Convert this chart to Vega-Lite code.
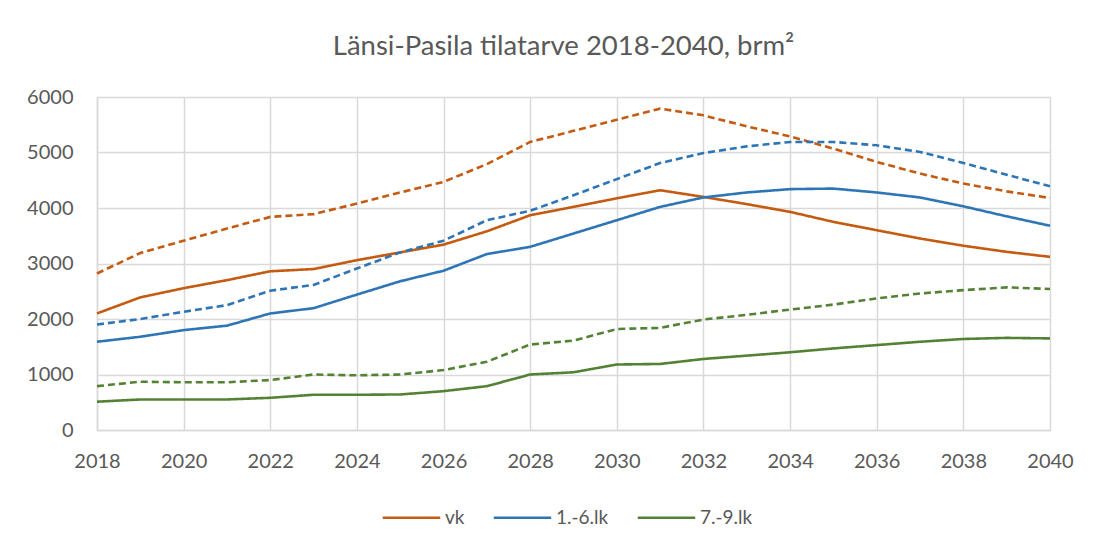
{
  "$schema": "https://vega.github.io/schema/vega-lite/v6.json",
  "width": 953,
  "height": 333,
  "autosize": {"type": "none"},
  "padding": {"left": 97, "top": 97, "right": 44, "bottom": 117},
  "background": "white",
  "title": {
    "text": "Länsi-Pasila tilatarve 2018-2040, brm²",
    "font": "Lato",
    "fontSize": 27.5,
    "fontWeight": "normal",
    "color": "#595959",
    "anchor": "middle",
    "dx": -10,
    "offset": 27
  },
  "config": {
    "view": {"stroke": null},
    "font": "Lato"
  },
  "data": {
    "values": [
      {"year": 2018, "series": "vk", "scenario": "solid", "value": 2100},
      {"year": 2019, "series": "vk", "scenario": "solid", "value": 2390},
      {"year": 2020, "series": "vk", "scenario": "solid", "value": 2555},
      {"year": 2021, "series": "vk", "scenario": "solid", "value": 2700},
      {"year": 2022, "series": "vk", "scenario": "solid", "value": 2860},
      {"year": 2023, "series": "vk", "scenario": "solid", "value": 2900},
      {"year": 2024, "series": "vk", "scenario": "solid", "value": 3060},
      {"year": 2025, "series": "vk", "scenario": "solid", "value": 3200},
      {"year": 2026, "series": "vk", "scenario": "solid", "value": 3340},
      {"year": 2027, "series": "vk", "scenario": "solid", "value": 3580},
      {"year": 2028, "series": "vk", "scenario": "solid", "value": 3870},
      {"year": 2029, "series": "vk", "scenario": "solid", "value": 4020},
      {"year": 2030, "series": "vk", "scenario": "solid", "value": 4175},
      {"year": 2031, "series": "vk", "scenario": "solid", "value": 4320},
      {"year": 2032, "series": "vk", "scenario": "solid", "value": 4200},
      {"year": 2033, "series": "vk", "scenario": "solid", "value": 4070},
      {"year": 2034, "series": "vk", "scenario": "solid", "value": 3930},
      {"year": 2035, "series": "vk", "scenario": "solid", "value": 3750},
      {"year": 2036, "series": "vk", "scenario": "solid", "value": 3600},
      {"year": 2037, "series": "vk", "scenario": "solid", "value": 3450},
      {"year": 2038, "series": "vk", "scenario": "solid", "value": 3320},
      {"year": 2039, "series": "vk", "scenario": "solid", "value": 3210},
      {"year": 2040, "series": "vk", "scenario": "solid", "value": 3120},
      {"year": 2018, "series": "vk", "scenario": "dashed", "value": 2820},
      {"year": 2019, "series": "vk", "scenario": "dashed", "value": 3190},
      {"year": 2020, "series": "vk", "scenario": "dashed", "value": 3410},
      {"year": 2021, "series": "vk", "scenario": "dashed", "value": 3630},
      {"year": 2022, "series": "vk", "scenario": "dashed", "value": 3840},
      {"year": 2023, "series": "vk", "scenario": "dashed", "value": 3890},
      {"year": 2024, "series": "vk", "scenario": "dashed", "value": 4080},
      {"year": 2025, "series": "vk", "scenario": "dashed", "value": 4280},
      {"year": 2026, "series": "vk", "scenario": "dashed", "value": 4470},
      {"year": 2027, "series": "vk", "scenario": "dashed", "value": 4790},
      {"year": 2028, "series": "vk", "scenario": "dashed", "value": 5190},
      {"year": 2029, "series": "vk", "scenario": "dashed", "value": 5390},
      {"year": 2030, "series": "vk", "scenario": "dashed", "value": 5590},
      {"year": 2031, "series": "vk", "scenario": "dashed", "value": 5790},
      {"year": 2032, "series": "vk", "scenario": "dashed", "value": 5670},
      {"year": 2033, "series": "vk", "scenario": "dashed", "value": 5470},
      {"year": 2034, "series": "vk", "scenario": "dashed", "value": 5290},
      {"year": 2035, "series": "vk", "scenario": "dashed", "value": 5070},
      {"year": 2036, "series": "vk", "scenario": "dashed", "value": 4830},
      {"year": 2037, "series": "vk", "scenario": "dashed", "value": 4620},
      {"year": 2038, "series": "vk", "scenario": "dashed", "value": 4440},
      {"year": 2039, "series": "vk", "scenario": "dashed", "value": 4300},
      {"year": 2040, "series": "vk", "scenario": "dashed", "value": 4180},
      {"year": 2018, "series": "1.-6.lk", "scenario": "solid", "value": 1590},
      {"year": 2019, "series": "1.-6.lk", "scenario": "solid", "value": 1680},
      {"year": 2020, "series": "1.-6.lk", "scenario": "solid", "value": 1800},
      {"year": 2021, "series": "1.-6.lk", "scenario": "solid", "value": 1880},
      {"year": 2022, "series": "1.-6.lk", "scenario": "solid", "value": 2100},
      {"year": 2023, "series": "1.-6.lk", "scenario": "solid", "value": 2195},
      {"year": 2024, "series": "1.-6.lk", "scenario": "solid", "value": 2440},
      {"year": 2025, "series": "1.-6.lk", "scenario": "solid", "value": 2680},
      {"year": 2026, "series": "1.-6.lk", "scenario": "solid", "value": 2870},
      {"year": 2027, "series": "1.-6.lk", "scenario": "solid", "value": 3170},
      {"year": 2028, "series": "1.-6.lk", "scenario": "solid", "value": 3300},
      {"year": 2029, "series": "1.-6.lk", "scenario": "solid", "value": 3540},
      {"year": 2030, "series": "1.-6.lk", "scenario": "solid", "value": 3780},
      {"year": 2031, "series": "1.-6.lk", "scenario": "solid", "value": 4020},
      {"year": 2032, "series": "1.-6.lk", "scenario": "solid", "value": 4190},
      {"year": 2033, "series": "1.-6.lk", "scenario": "solid", "value": 4280},
      {"year": 2034, "series": "1.-6.lk", "scenario": "solid", "value": 4340},
      {"year": 2035, "series": "1.-6.lk", "scenario": "solid", "value": 4350},
      {"year": 2036, "series": "1.-6.lk", "scenario": "solid", "value": 4280},
      {"year": 2037, "series": "1.-6.lk", "scenario": "solid", "value": 4190},
      {"year": 2038, "series": "1.-6.lk", "scenario": "solid", "value": 4030},
      {"year": 2039, "series": "1.-6.lk", "scenario": "solid", "value": 3850},
      {"year": 2040, "series": "1.-6.lk", "scenario": "solid", "value": 3680},
      {"year": 2018, "series": "1.-6.lk", "scenario": "dashed", "value": 1900},
      {"year": 2019, "series": "1.-6.lk", "scenario": "dashed", "value": 2000},
      {"year": 2020, "series": "1.-6.lk", "scenario": "dashed", "value": 2130},
      {"year": 2021, "series": "1.-6.lk", "scenario": "dashed", "value": 2250},
      {"year": 2022, "series": "1.-6.lk", "scenario": "dashed", "value": 2510},
      {"year": 2023, "series": "1.-6.lk", "scenario": "dashed", "value": 2615},
      {"year": 2024, "series": "1.-6.lk", "scenario": "dashed", "value": 2910},
      {"year": 2025, "series": "1.-6.lk", "scenario": "dashed", "value": 3200},
      {"year": 2026, "series": "1.-6.lk", "scenario": "dashed", "value": 3410},
      {"year": 2027, "series": "1.-6.lk", "scenario": "dashed", "value": 3780},
      {"year": 2028, "series": "1.-6.lk", "scenario": "dashed", "value": 3950},
      {"year": 2029, "series": "1.-6.lk", "scenario": "dashed", "value": 4230},
      {"year": 2030, "series": "1.-6.lk", "scenario": "dashed", "value": 4520},
      {"year": 2031, "series": "1.-6.lk", "scenario": "dashed", "value": 4810},
      {"year": 2032, "series": "1.-6.lk", "scenario": "dashed", "value": 4990},
      {"year": 2033, "series": "1.-6.lk", "scenario": "dashed", "value": 5110},
      {"year": 2034, "series": "1.-6.lk", "scenario": "dashed", "value": 5190},
      {"year": 2035, "series": "1.-6.lk", "scenario": "dashed", "value": 5190},
      {"year": 2036, "series": "1.-6.lk", "scenario": "dashed", "value": 5130},
      {"year": 2037, "series": "1.-6.lk", "scenario": "dashed", "value": 5010},
      {"year": 2038, "series": "1.-6.lk", "scenario": "dashed", "value": 4810},
      {"year": 2039, "series": "1.-6.lk", "scenario": "dashed", "value": 4600},
      {"year": 2040, "series": "1.-6.lk", "scenario": "dashed", "value": 4390},
      {"year": 2018, "series": "7.-9.lk", "scenario": "solid", "value": 510},
      {"year": 2019, "series": "7.-9.lk", "scenario": "solid", "value": 550},
      {"year": 2020, "series": "7.-9.lk", "scenario": "solid", "value": 550},
      {"year": 2021, "series": "7.-9.lk", "scenario": "solid", "value": 550},
      {"year": 2022, "series": "7.-9.lk", "scenario": "solid", "value": 580},
      {"year": 2023, "series": "7.-9.lk", "scenario": "solid", "value": 635},
      {"year": 2024, "series": "7.-9.lk", "scenario": "solid", "value": 635},
      {"year": 2025, "series": "7.-9.lk", "scenario": "solid", "value": 640},
      {"year": 2026, "series": "7.-9.lk", "scenario": "solid", "value": 700},
      {"year": 2027, "series": "7.-9.lk", "scenario": "solid", "value": 790},
      {"year": 2028, "series": "7.-9.lk", "scenario": "solid", "value": 1000},
      {"year": 2029, "series": "7.-9.lk", "scenario": "solid", "value": 1040},
      {"year": 2030, "series": "7.-9.lk", "scenario": "solid", "value": 1180},
      {"year": 2031, "series": "7.-9.lk", "scenario": "solid", "value": 1190},
      {"year": 2032, "series": "7.-9.lk", "scenario": "solid", "value": 1280},
      {"year": 2033, "series": "7.-9.lk", "scenario": "solid", "value": 1340},
      {"year": 2034, "series": "7.-9.lk", "scenario": "solid", "value": 1400},
      {"year": 2035, "series": "7.-9.lk", "scenario": "solid", "value": 1470},
      {"year": 2036, "series": "7.-9.lk", "scenario": "solid", "value": 1530},
      {"year": 2037, "series": "7.-9.lk", "scenario": "solid", "value": 1590},
      {"year": 2038, "series": "7.-9.lk", "scenario": "solid", "value": 1640},
      {"year": 2039, "series": "7.-9.lk", "scenario": "solid", "value": 1660},
      {"year": 2040, "series": "7.-9.lk", "scenario": "solid", "value": 1650},
      {"year": 2018, "series": "7.-9.lk", "scenario": "dashed", "value": 790},
      {"year": 2019, "series": "7.-9.lk", "scenario": "dashed", "value": 870},
      {"year": 2020, "series": "7.-9.lk", "scenario": "dashed", "value": 860},
      {"year": 2021, "series": "7.-9.lk", "scenario": "dashed", "value": 860},
      {"year": 2022, "series": "7.-9.lk", "scenario": "dashed", "value": 900},
      {"year": 2023, "series": "7.-9.lk", "scenario": "dashed", "value": 1000},
      {"year": 2024, "series": "7.-9.lk", "scenario": "dashed", "value": 985},
      {"year": 2025, "series": "7.-9.lk", "scenario": "dashed", "value": 1000},
      {"year": 2026, "series": "7.-9.lk", "scenario": "dashed", "value": 1080},
      {"year": 2027, "series": "7.-9.lk", "scenario": "dashed", "value": 1230},
      {"year": 2028, "series": "7.-9.lk", "scenario": "dashed", "value": 1540},
      {"year": 2029, "series": "7.-9.lk", "scenario": "dashed", "value": 1610},
      {"year": 2030, "series": "7.-9.lk", "scenario": "dashed", "value": 1820},
      {"year": 2031, "series": "7.-9.lk", "scenario": "dashed", "value": 1840},
      {"year": 2032, "series": "7.-9.lk", "scenario": "dashed", "value": 1990},
      {"year": 2033, "series": "7.-9.lk", "scenario": "dashed", "value": 2075},
      {"year": 2034, "series": "7.-9.lk", "scenario": "dashed", "value": 2170},
      {"year": 2035, "series": "7.-9.lk", "scenario": "dashed", "value": 2260},
      {"year": 2036, "series": "7.-9.lk", "scenario": "dashed", "value": 2370},
      {"year": 2037, "series": "7.-9.lk", "scenario": "dashed", "value": 2460},
      {"year": 2038, "series": "7.-9.lk", "scenario": "dashed", "value": 2520},
      {"year": 2039, "series": "7.-9.lk", "scenario": "dashed", "value": 2570},
      {"year": 2040, "series": "7.-9.lk", "scenario": "dashed", "value": 2540}
    ]
  },
  "mark": {"type": "line", "strokeWidth": 2.6, "strokeCap": "butt"},
  "encoding": {
    "x": {
      "field": "year",
      "type": "quantitative",
      "scale": {"domain": [2018, 2040], "nice": false, "zero": false},
      "axis": {
        "title": null,
        "values": [2018, 2020, 2022, 2024, 2026, 2028, 2030, 2032, 2034, 2036, 2038, 2040],
        "format": "d",
        "labelFont": "Lato",
        "labelFontSize": 20,
        "labelColor": "#595959",
        "labelPadding": 31,
        "labelFlush": false,
        "labelOverlap": false,
        "labelBaseline": "middle",
        "ticks": false,
        "domainColor": "#D9D9D9",
        "domainWidth": 1.5,
        "gridColor": "#D9D9D9",
        "gridWidth": 1.5,
        "grid": true
      }
    },
    "y": {
      "field": "value",
      "type": "quantitative",
      "scale": {"domain": [0, 6000], "nice": false},
      "axis": {
        "title": null,
        "values": [0, 1000, 2000, 3000, 4000, 5000, 6000],
        "format": "d",
        "labelFont": "Lato",
        "labelFontSize": 20,
        "labelColor": "#595959",
        "labelPadding": 24,
        "labelFlush": false,
        "ticks": false,
        "domainColor": "#D9D9D9",
        "domainWidth": 1.5,
        "gridColor": "#D9D9D9",
        "gridWidth": 1.5,
        "grid": true
      }
    },
    "color": {
      "field": "series",
      "type": "nominal",
      "scale": {"domain": ["vk", "1.-6.lk", "7.-9.lk"], "range": ["#C55A11", "#2E75B6", "#548235"]},
      "legend": {
        "title": null,
        "orient": "none",
        "legendX": 284,
        "legendY": 390,
        "direction": "horizontal",
        "labelFont": "Lato",
        "labelFontSize": 19,
        "labelColor": "#595959",
        "symbolType": "stroke",
        "symbolSize": 3300,
        "symbolStrokeWidth": 2.6,
        "columnPadding": 23,
        "labelOffset": 3
      }
    },
    "strokeDash": {
      "field": "scenario",
      "type": "nominal",
      "scale": {"domain": ["solid", "dashed"], "range": [[1, 0], [7, 4]]},
      "legend": null
    }
  }
}
